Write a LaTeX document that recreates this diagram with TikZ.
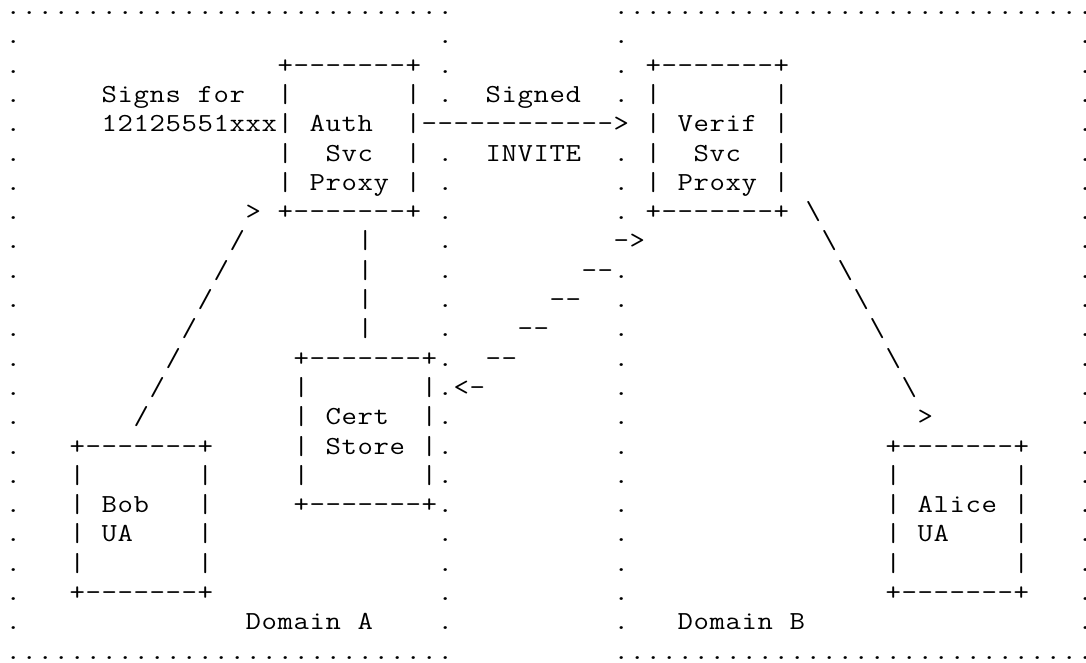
\documentclass[tikz,border=0pt]{standalone}
\usepackage{fontspec}
\setmonofont[FakeStretch=1.15]{Latin Modern Mono}
\makeatletter
\newcommand\bs{\textbackslash}
\newcommand\mrow[1]{\mrowloop#1\relax}
\def\mrowloop#1{\ifx#1\relax\else\ifx#1*\hspace*{16pt}\else\makebox[16pt][c]{#1}\fi\expandafter\mrowloop\fi}
\makeatother
\tikzset{
  ascii/.style={anchor=base west, inner sep=0pt, outer sep=0pt, font=\ttfamily\fontsize{26pt}{29pt}\selectfont, text=black},
  dotch/.style={ascii, text height=3pt, text depth=0pt}
}
\newcommand\T[3]{\node[ascii] (t-#1-#2) at ({5.3+16*#1},{-(14.5+29.3*#2)}) {\mrow{#3}};}
\newcommand\D[2]{\node[dotch] (d-#1-#2) at ({5.3+16*#1},{-(14.5+29.3*#2)}) {\mrow{.}};}
\begin{document}
\begin{tikzpicture}[x=1pt,y=1pt]
\useasboundingbox[fill=white] (0,0) rectangle (1086,-662);
% domain borders
\foreach \r in {0,22}{\foreach \c in {0,...,27}{\D{\c}{\r}}}
\foreach \r in {0,22}{\foreach \c in {38,...,67}{\D{\c}{\r}}}
\foreach \r in {1,...,21}{\foreach \c in {0,67}{\D{\c}{\r}}}
\foreach \r in {1,2,3,5,6,7,8,9,10,11,12,13,14,15,16,17,18,19,20,21}{\D{27}{\r}}
\foreach \r in {1,2,3,5,6,7,9,10,11,12,13,14,15,16,17,18,19,20,21}{\D{38}{\r}}
% row 2
\T{17}{2}{+-------+}
\T{40}{2}{+-------+}
% row 3
\T{6}{3}{Signs*for}
\T{17}{3}{|*******|}
\T{30}{3}{Signed}
\T{40}{3}{|*******|}
% row 4
\T{6}{4}{12125551xxx|*Auth**|------------>}
\T{40}{4}{|*Verif*|}
% row 5
\T{17}{5}{|**Svc**|}
\T{30}{5}{INVITE}
\T{40}{5}{|**Svc**|}
% row 6
\T{17}{6}{|*Proxy*|}
\T{40}{6}{|*Proxy*|}
% row 7
\T{15}{7}{>*+-------+}
\T{40}{7}{+-------+*\bs}
% rows 8-14
\T{14}{8}{/}  \T{22}{8}{|}  \T{38}{8}{->} \T{51}{8}{\bs}
\T{13}{9}{/}  \T{22}{9}{|}  \T{36}{9}{--} \T{52}{9}{\bs}
\T{12}{10}{/} \T{22}{10}{|} \T{34}{10}{--} \T{53}{10}{\bs}
\T{11}{11}{/} \T{22}{11}{|} \T{32}{11}{--} \T{54}{11}{\bs}
\T{10}{12}{/} \T{18}{12}{+-------+} \T{30}{12}{--} \T{55}{12}{\bs}
\T{9}{13}{/}  \T{18}{13}{|*******|} \T{28}{13}{<-} \T{56}{13}{\bs}
\T{8}{14}{/}  \T{18}{14}{|*Cert**|} \T{57}{14}{>}
% rows 15-20
\T{4}{15}{+-------+} \T{18}{15}{|*Store*|} \T{55}{15}{+-------+}
\T{4}{16}{|*******|} \T{18}{16}{|*******|} \T{55}{16}{|*******|}
\T{4}{17}{|*Bob***|} \T{18}{17}{+-------+} \T{55}{17}{|*Alice*|}
\T{4}{18}{|*UA****|} \T{55}{18}{|*UA****|}
\T{4}{19}{|*******|} \T{55}{19}{|*******|}
\T{4}{20}{+-------+} \T{55}{20}{+-------+}
% row 21
\T{15}{21}{Domain*A}
\T{42}{21}{Domain*B}
\end{tikzpicture}
\end{document}
